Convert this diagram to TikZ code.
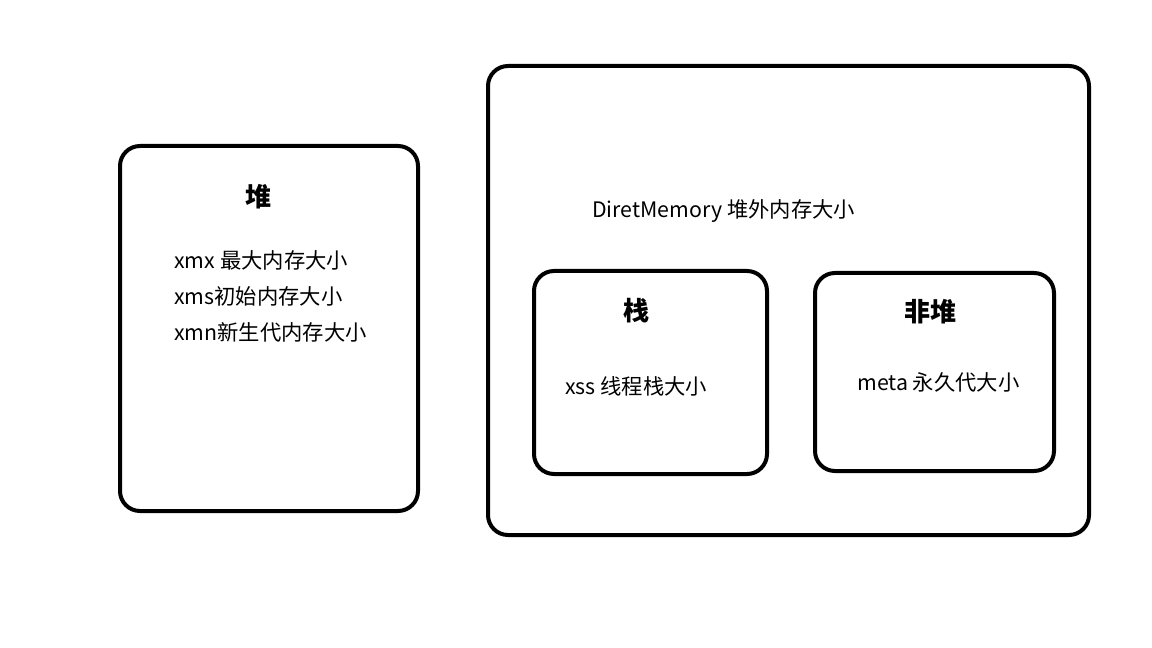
\documentclass[tikz,border=0pt]{standalone}
\usepackage{fontspec}
\setmainfont{Noto Sans CJK SC}
\usepackage{tikz}
\usetikzlibrary{
	positioning,						% Relative positioning
	calc								% Calculate point coordinates
}

\begin{document}
\begin{tikzpicture}[x=0.75pt, y=-0.75pt]
		\tikzstyle{area} = [draw, line width=3pt, rounded corners=15pt]
		\tikzstyle{title} = [font=\bfseries\fontsize{19.5}{22}\selectfont, inner sep=0pt]
		\tikzstyle{entry} = [anchor=west, font=\fontsize{16}{19}\selectfont, inner sep=0pt]
		
		% Canvas
		\useasboundingbox (0,0) rectangle (1152,648);
		
		% Heap
		\draw[area] (120,146) rectangle (418,511);
		\node[title] at (258,197) (heapTitle) {堆};
		\node[entry] at (174,260) (heapXmx) {xmx 最大内存大小};
		\node[entry] at (174,296) (heapXms) {xms初始内存大小};
		\node[entry] at (174,332) (heapXmn) {xmn新生代内存大小};
		
		% Direct memory
		\draw[area] (488,66) rectangle (1089,535);
		\node[entry] at (592,211) (directMem) {DiretMemory 堆外内存大小};
		%% Stack
		\draw[area] (534,271) rectangle (767,474);
		\node[title] at (636,311) (stackTitle) {栈};
		\node[entry] at (565,386) (stackXss) {xss 线程栈大小};
		%% Non-heap
		\draw[area] (815,273) rectangle (1054,471);
		\node[title] at (930,312) (nonHeapTitle) {非堆};
		\node[entry] at (857,382) (nonHeapMeta) {meta 永久代大小};
	\end{tikzpicture}
\end{document}
